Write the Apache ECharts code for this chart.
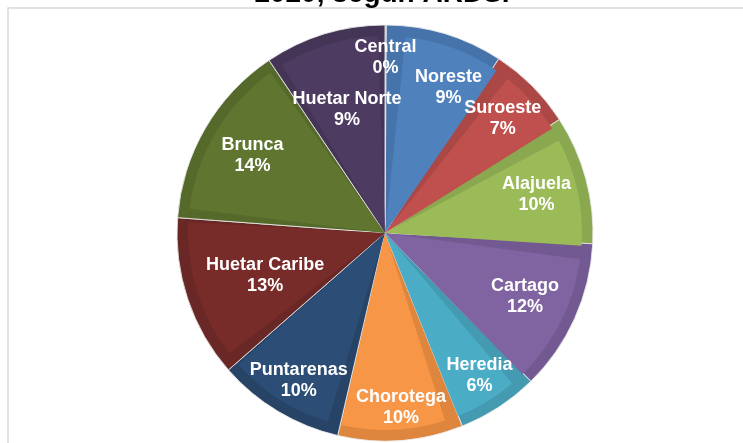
<!DOCTYPE html>
<html>
<head>
<meta charset="utf-8">
<script src="https://cdn.jsdelivr.net/npm/echarts@6/dist/echarts.min.js"></script>
<style>
  html, body { margin: 0; padding: 0; background: #fff; }
  #chart { width: 743px; height: 443px; }
</style>
</head>
<body>
<div id="chart"></div>
<script>
// Regions, clockwise from 12 o'clock (share of total, %)
const regions = ["Central", "Noreste", "Suroeste", "Alajuela", "Cartago", "Heredia",
  "Chorotega", "Puntarenas", "Huetar Caribe", "Brunca", "Huetar Norte"];
const shares = [0.1, 9.1, 6.6, 10.0, 11.8, 6.3, 9.7, 9.9, 12.6, 14.4, 9.4];

// face colour and the darker bevel rim of each slice
const faceColors = ["#729ACA", "#4F81BD", "#C0504D", "#9BBB59", "#8064A2", "#4BACC6",
  "#F79646", "#2C4D75", "#772C2A", "#5F7530", "#4D3B62"];
const rimColors = ["#6489B5", "#4674AA", "#AB4744", "#8AA84F", "#725991", "#439AB1",
  "#DE863E", "#274467", "#692725", "#54692A", "#443556"];

const titleLine = "2020, según ARDS.";

// label placement tweaks (px), Excel "best fit" style
const labelNudge = {
  "Central": [0, -17], "Noreste": [18, 6], "Suroeste": [6, -3], "Alajuela": [-1, 3],
  "Cartago": [-4, -1], "Heredia": [8, 10], "Chorotega": [4, 17], "Puntarenas": [-5, 12],
  "Huetar Caribe": [30, -8], "Brunca": [4, 2], "Huetar Norte": [8, 28]
};

const chart = echarts.init(document.getElementById("chart"), null, { renderer: "canvas" });

const CENTER = [385, 233];
const R = 208;
const LABEL_R = 158;
const total = shares.reduce((a, b) => a + b, 0);

function slices(colors) {
  return regions.map((name, i) => ({ name, value: shares[i], itemStyle: { color: colors[i] } }));
}

// label anchor on each slice's bisector (polar: [radius, angle])
let run = 0;
const labelPoints = regions.map((name, i) => {
  const mid = run + shares[i] / 2;
  run += shares[i];
  return { name, value: [LABEL_R, mid], label: { offset: labelNudge[name] } };
});

chart.setOption({
  backgroundColor: "#fff",
  animation: false,
  polar: { center: CENTER, radius: R },
  angleAxis: {
    type: "value", min: 0, max: total, startAngle: 90, clockwise: true,
    axisLine: { show: false }, axisTick: { show: false }, axisLabel: { show: false },
    splitLine: { show: false }
  },
  radiusAxis: {
    type: "value", min: 0, max: R,
    axisLine: { show: false }, axisTick: { show: false }, axisLabel: { show: false },
    splitLine: { show: false }
  },
  graphic: [
    {
      type: "rect",
      shape: { x: 8, y: 8, width: 900, height: 600 },
      style: { fill: "none", stroke: "#d9d9d9", lineWidth: 1.5 },
      z: 0
    },
    {
      type: "text",
      x: 382,
      y: -20,
      style: {
        text: titleLine,
        font: "bold 28px Arial, 'Liberation Sans', sans-serif",
        fill: "#000",
        align: "center",
        verticalAlign: "top"
      },
      z: 10
    }
  ],
  series: [
    {
      // rim layer
      type: "pie",
      center: CENTER,
      radius: [0, R],
      startAngle: 90,
      clockwise: true,
      silent: true,
      label: { show: false },
      labelLine: { show: false },
      itemStyle: { borderColor: "rgba(235,235,235,0.85)", borderWidth: 1 },
      data: slices(rimColors),
      z: 1
    },
    {
      // inner face
      type: "pie",
      center: CENTER,
      radius: [0, R - 11],
      startAngle: 90,
      clockwise: true,
      padAngle: 4,
      silent: true,
      label: { show: false },
      labelLine: { show: false },
      data: slices(faceColors),
      z: 2
    },
    {
      // labels
      type: "scatter",
      coordinateSystem: "polar",
      symbolSize: 0,
      silent: true,
      itemStyle: { opacity: 1 },
      label: {
        show: true,
        position: "inside",
        color: "#ffffff",
        opacity: 1,
        fontFamily: "Arial, 'Liberation Sans', sans-serif",
        fontWeight: "bold",
        fontSize: 18,
        lineHeight: 21,
        formatter: (p) => p.name + "\n" + Math.round(shares[p.dataIndex]) + "%"
      },
      data: labelPoints,
      z: 5
    }
  ]
});
</script>
</body>
</html>
